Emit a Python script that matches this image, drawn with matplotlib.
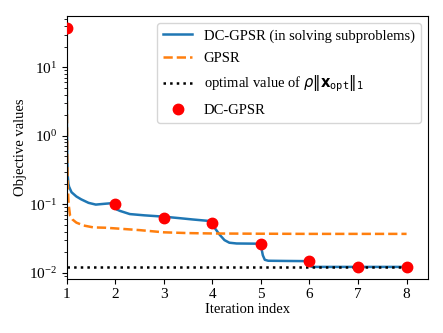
import numpy as np
import matplotlib.pyplot as plt

plt.rcParams['font.family'] = ['Liberation Serif', 'DejaVu Sans']
plt.rcParams['mathtext.fontset'] = 'dejavusans'

# DC-GPSR inner iterations
dc_x = [1.0, 1.002, 1.006, 1.012, 1.02, 1.035, 1.05, 1.1, 1.2, 1.3, 1.45, 1.6, 1.8, 1.95, 1.99,
        2.0, 2.03, 2.1, 2.3, 2.6, 3.0, 3.3, 3.6, 3.95, 4.0, 4.05, 4.15, 4.25, 4.35, 4.5, 4.98,
        5.0, 5.04, 5.08, 5.15, 5.5, 5.98, 6.0, 6.04, 6.1, 7.0, 8.0]
dc_y = [37.0, 8.0, 1.5, 0.5, 0.27, 0.2, 0.18, 0.15, 0.13, 0.118, 0.105, 0.099, 0.102, 0.104, 0.104,
        0.088, 0.084, 0.08, 0.072, 0.069, 0.066, 0.063, 0.06, 0.057, 0.054, 0.045, 0.036, 0.03, 0.0275, 0.0268, 0.0266,
        0.025, 0.018, 0.0155, 0.015, 0.0149, 0.0148, 0.0135, 0.0123, 0.0122, 0.0122, 0.0122]

# GPSR
gp_x = [1.0, 1.003, 1.01, 1.02, 1.04, 1.07, 1.12, 1.2, 1.35, 1.55, 1.8, 2.0, 2.5, 3.0, 3.5, 4.0, 5.0, 6.0, 7.0, 8.0]
gp_y = [30.0, 5.0, 0.6, 0.2, 0.1, 0.068, 0.06, 0.054, 0.049, 0.046, 0.0455, 0.0445, 0.042, 0.039, 0.038, 0.0375,
        0.0372, 0.037, 0.037, 0.037]

# optimal value of rho*||x_opt||_1
opt_val = 0.0122

# DC-GPSR outer iterations
outer_x = [1, 2, 3, 4, 5, 6, 7, 8]
outer_y = [37.0, 0.1, 0.064, 0.054, 0.0266, 0.0148, 0.0122, 0.0122]

fig = plt.figure(figsize=(4.43, 3.33), dpi=100)
ax = fig.add_axes([0.1505, 0.163, 0.8155, 0.789])

ax.plot(dc_x, dc_y, color='#1f77b4', lw=1.8, label='DC-GPSR (in solving subproblems)')
ax.plot(gp_x, gp_y, color='#ff7f0e', lw=1.8, ls='--', label='GPSR')
ax.plot([1, 8], [opt_val, opt_val], color='black', lw=1.8, ls=':',
        label=r'optimal value of $\rho\|\mathbf{x}_{\mathtt{opt}}\|_1$')
ax.plot(outer_x, outer_y, 'o', color='red', ms=7.5, label='DC-GPSR', zorder=5)

ax.set_yscale('log')
ax.set_xlim(1, 8.44)
ax.set_ylim(0.0082, 56)
ax.set_xticks(outer_x)
ax.tick_params(labelsize=11)
ax.set_xlabel('Iteration index', fontsize=10.5, labelpad=1)
ax.set_ylabel('Objective values', fontsize=10.5, labelpad=1)

ax.legend(loc='upper right', fontsize=10.5, labelspacing=0.62)

fig.savefig('out.png', dpi=100)
